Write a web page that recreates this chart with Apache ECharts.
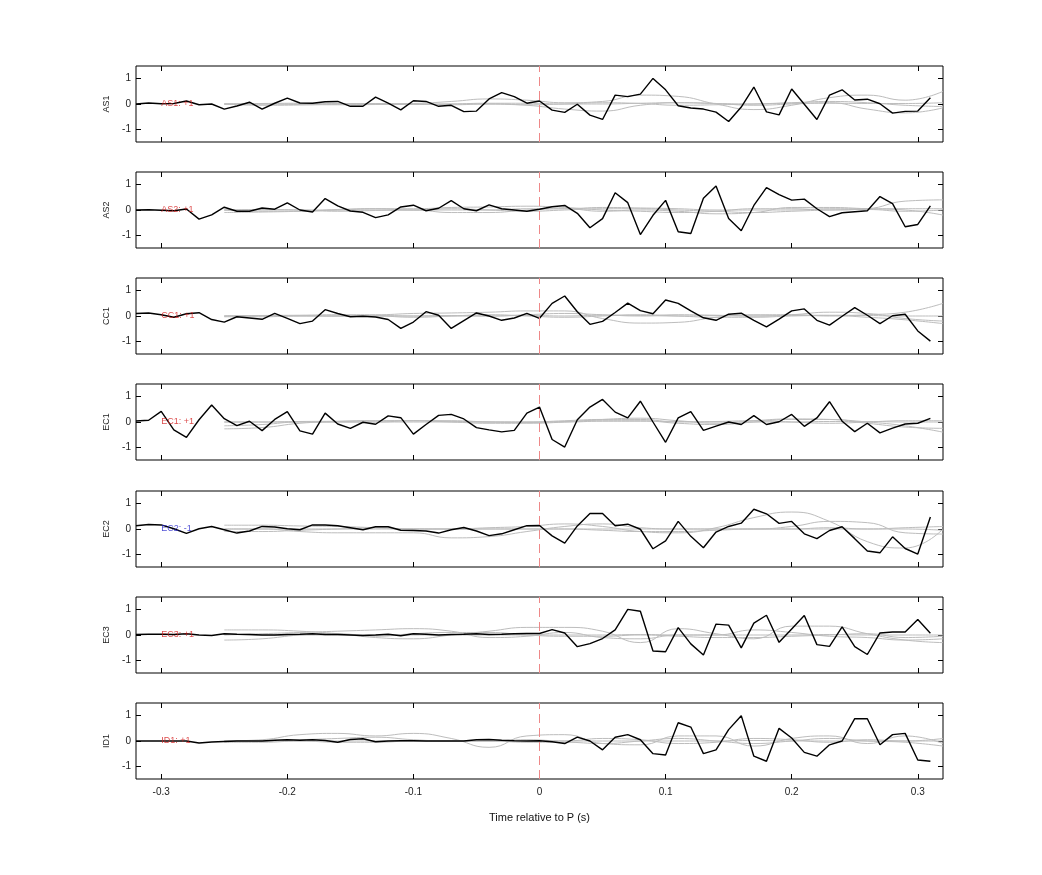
<!DOCTYPE html>
<html>
<head>
<meta charset="utf-8">
<script src="https://cdn.jsdelivr.net/npm/echarts@6/dist/echarts.min.js"></script>
<style>html,body{margin:0;padding:0;background:#fff}#c{width:1042px;height:875px}</style>
</head>
<body>
<div id="c"></div>
<script>
// ---- data ----
const stations = ['AS1', 'AS2', 'CC1', 'EC1', 'EC2', 'EC3', 'ID1'];
const polarity = ['+1', '+1', '+1', '+1', '-1', '+1', '+1'];
const xTicks = [-0.3, -0.2, -0.1, 0, 0.1, 0.2, 0.3];
const yTicks = [-1, 0, 1];
const tStart = -0.32, tStep = 0.01; // black trace sampling
const labelT = -0.3;

const AS1 = [0,0.04,0.01,0.02,0.12,-0.03,0,-0.2,-0.08,0.07,-0.2,0.03,0.23,0.04,0.03,0.09,0.1,-0.09,-0.09,0.27,0.03,-0.23,0.13,0.1,-0.09,-0.05,-0.3,-0.28,0.2,0.45,0.29,0.03,
  0.12,-0.24,-0.33,-0.01,-0.44,-0.61,0.35,0.29,0.39,1.01,0.56,-0.07,-0.16,-0.2,-0.32,-0.69,-0.12,0.67,-0.31,-0.43,0.59,-0.01,-0.61,0.35,0.56,0.16,0.19,0.01,-0.36,-0.29,-0.28,0.25];
const AS2 = [0,0.01,-0.01,-0.03,0.04,-0.36,-0.19,0.11,-0.05,-0.05,0.08,0.03,0.28,0,-0.08,0.45,0.16,-0.04,-0.09,-0.3,-0.19,0.12,0.19,-0.03,0.07,0.37,0.05,-0.03,0.2,0.05,0,-0.05,
  0.03,0.13,0.18,-0.13,-0.7,-0.34,0.68,0.29,-0.97,-0.21,0.38,-0.86,-0.93,0.46,0.95,-0.34,-0.82,0.18,0.88,0.61,0.39,0.43,0.05,-0.26,-0.11,-0.07,-0.03,0.53,0.25,-0.66,-0.57,0.16];
const CC1 = [0.1,0.12,0.05,-0.05,0.09,0.13,-0.14,-0.24,-0.03,-0.08,-0.13,0.1,-0.09,-0.3,-0.2,0.25,0.1,-0.03,-0.01,-0.04,-0.14,-0.49,-0.24,0.17,0.03,-0.49,-0.18,0.12,0,-0.17,-0.08,0.1,
  -0.09,0.5,0.79,0.17,-0.33,-0.21,0.14,0.51,0.21,0.09,0.63,0.5,0.2,-0.07,-0.17,0.07,0.11,-0.17,-0.43,-0.12,0.2,0.28,-0.17,-0.36,-0.01,0.33,0.03,-0.3,0.01,0.07,-0.59,-0.99];
const EC1 = [0.04,0.07,0.42,-0.31,-0.61,0.09,0.67,0.13,-0.14,0.03,-0.34,0.1,0.41,-0.35,-0.48,0.35,-0.08,-0.25,-0.01,-0.09,0.24,0.17,-0.48,-0.1,0.26,0.3,0.12,-0.22,-0.31,-0.39,-0.33,0.35,
  0.59,-0.69,-0.99,0.09,0.59,0.89,0.39,0.16,0.82,0,-0.8,0.16,0.41,-0.33,-0.16,0,-0.1,0.25,-0.1,0.01,0.3,-0.17,0.16,0.8,0.03,-0.38,-0.05,-0.43,-0.24,-0.08,-0.05,0.14];
const EC2 = [0.13,0.18,0.16,0.01,-0.17,0.01,0.1,-0.03,-0.16,-0.08,0.1,0.08,0.01,-0.03,0.16,0.16,0.13,0.05,-0.03,0.09,0.09,-0.05,-0.06,-0.08,-0.16,-0.03,0.06,-0.08,-0.26,-0.19,-0.03,0.13,
  0.14,-0.27,-0.56,0.12,0.61,0.61,0.13,0.19,-0.01,-0.78,-0.47,0.3,-0.29,-0.74,-0.12,0.1,0.23,0.78,0.6,0.22,0.3,-0.19,-0.38,-0.06,0.09,-0.38,-0.87,-0.94,-0.31,-0.77,-0.99,0.47];
const EC3 = [0.02,0.03,0.03,0.02,0.05,0.0,-0.02,0.05,0.03,0.02,0.0,0.0,0.02,0.03,0.05,0.02,0.02,0.0,-0.02,0.0,0.03,-0.03,0.05,0.03,0.0,0.02,0.03,0.05,0.02,0.03,0.05,0.06,
  0.06,0.21,0.08,-0.46,-0.34,-0.14,0.2,1.01,0.94,-0.63,-0.66,0.29,-0.35,-0.79,0.43,0.39,-0.51,0.47,0.78,-0.29,0.24,0.77,-0.38,-0.45,0.32,-0.46,-0.77,0.08,0.12,0.12,0.61,0.07];
const ID1 = [0,0,0,0,0,-0.08,-0.04,-0.02,0,0,0,0.03,0.05,0.03,0.05,0.02,-0.05,0.06,0.09,-0.03,0,0.01,0.01,0,0,0,0,0.05,0.06,0.03,0.01,0,
  0.01,-0.03,-0.1,0.15,0.0,-0.35,0.15,0.25,0.05,-0.5,-0.55,0.72,0.55,-0.5,-0.35,0.45,1.0,-0.6,-0.8,0.5,0.12,-0.45,-0.6,-0.15,0.0,0.88,0.88,-0.15,0.25,0.3,-0.75,-0.8];
const traces = [AS1, AS2, CC1, EC1, EC2, EC3, ID1];

// gray (model) curves, sampled on grayT
const grayT = [-0.25,-0.22,-0.19,-0.16,-0.13,-0.10,-0.07,-0.04,-0.01,0.02,0.05,0.08,0.11,0.14,0.17,0.20,0.23,0.26,0.29,0.32];
const grayAS1 = [
  [0,0,0,0,0,0.02,0.1,0.2,0.15,0.05,0.1,0.35,0.3,0,-0.22,-0.05,0.25,0.35,0.15,0.5],
  [0,0,-0.02,-0.03,-0.02,0,0,0,-0.05,-0.2,-0.28,-0.05,0.05,0.02,-0.05,0,0.05,-0.2,-0.35,-0.15],
  [0,0.02,0.03,0.02,0,-0.02,0,0.03,0.03,0,0,0.03,0.05,0.02,0,0.03,0.03,0.02,0.02,0.05],
  [0,-0.05,-0.04,0,0.02,0,-0.03,0,-0.03,0,0.05,0.02,-0.05,-0.03,0,0.05,0.1,0.05,-0.05,-0.1]];
const grayAS2 = [
  [-0.1,-0.08,-0.05,0,0.05,0.05,0.1,0.12,0.15,0.1,0,-0.05,-0.1,-0.05,0.05,0.05,0,0.05,0.35,0.4],
  [0,0.02,0,-0.05,-0.02,0,-0.1,-0.1,0,0.05,-0.05,0,-0.05,-0.15,-0.1,0.1,0.1,0.05,0,-0.2],
  [0,0,0,0,0,0,0,0,0.05,0.05,0.1,0.08,0.05,0,0,0,0.05,0.05,0.05,0.05],
  [0,-0.05,-0.05,0.02,0.05,0,0.05,0,-0.05,0,0.05,0.05,0,-0.05,-0.1,-0.05,0,0.02,-0.05,0]];
const grayCC1 = [
  [0,0.02,0.03,0.05,0.05,0.1,0.12,0.15,0.2,0.2,-0.1,-0.28,-0.25,-0.05,0.05,0.05,0,0.05,0.15,0.5],
  [0,0,0,0,0,0,0,0,0.05,0.1,0.05,0,0.05,0.03,0,0.05,0.15,0.1,-0.1,-0.2],
  [-0.03,-0.03,0,0,0,-0.05,0,0.05,0,-0.05,0,0.05,0,-0.05,-0.05,0,0.02,-0.05,-0.15,-0.3],
  [0,0.02,0.02,0,0.02,0,0.02,0,0.02,0,0.03,0.02,0,0.02,0,0.02,0.03,0.02,0,0]];
const grayEC1 = [
  [-0.27,-0.22,-0.05,0.02,0.05,0.05,0,-0.05,-0.05,0,0.1,0.15,0.05,-0.05,0.05,0.12,0.1,0,-0.15,-0.4],
  [-0.15,-0.1,0,0,0,0.05,0.05,0,-0.02,0.02,0.05,0.05,-0.05,-0.1,0,0.1,0.1,-0.05,-0.2,-0.25],
  [0,0,0,0,0,0,0,0,0,0,0.03,0.03,0.02,0,0,0,0.02,0.02,0,0],
  [0,0,0.02,0.03,0.05,0.05,0.03,0,0,0.05,0.1,0.1,0,0.02,0.05,0,-0.05,0,0.05,0.05]];
const grayEC2 = [
  [0.15,0.15,0.12,0.1,0.05,0,0,0.05,0.1,0.2,0.1,-0.1,-0.15,0.05,0.45,0.67,0.3,-0.5,-0.75,0],
  [0,0,-0.1,-0.15,-0.15,-0.15,-0.35,-0.3,-0.1,0.1,0.2,0.05,0,0,0,0.1,0.3,0.25,-0.15,-0.2],
  [-0.1,-0.1,-0.05,0,0.05,0,0,0,0,0,-0.05,-0.1,-0.1,-0.05,0,0,0.05,0,0,-0.05],
  [0,0,0,0,0,0,0,0,0,0,0,0,0,0,0,0,0,0,0.05,0.1]];
const grayEC3 = [
  [0.2,0.2,0.15,0.05,-0.1,-0.15,0,0.15,0.3,0.3,0.15,-0.3,0.25,0.05,-0.15,0.35,0.35,0.05,-0.2,-0.3],
  [0,0.05,0.1,0.15,0.2,0.25,0.15,-0.1,-0.05,0.1,-0.1,-0.15,0,0,0.2,0.1,-0.05,-0.1,-0.2,-0.15],
  [-0.2,-0.15,0,0.05,-0.05,0.05,0.1,0.1,0,-0.05,-0.05,0,-0.05,-0.1,-0.1,-0.05,0,0.05,-0.1,-0.05],
  [0.05,0,0,0,0,0,0,0,0,0,0,0.02,0,0,0,0,0.02,0,0,0]];
const grayID1 = [
  [0,0.05,0.25,0.3,0.2,0.3,0.1,-0.25,0.2,0.25,-0.1,-0.15,0.2,0.2,-0.2,0.1,0.2,-0.1,0.2,-0.1],
  [0,0,0.05,0.1,0.15,0.05,0,0,0.05,0,0.1,0.05,-0.1,-0.05,0.1,0.05,-0.05,0.05,0,0.1],
  [-0.05,-0.05,0,-0.05,-0.05,0,0,0,-0.05,-0.05,-0.1,0,0.1,0,-0.1,0,0.1,0,-0.05,-0.2],
  [0,0,0,0,0,0,0,0,0,0,0,0,0,0,0.02,0,0,0,0,0]];
const grays = [grayAS1, grayAS2, grayCC1, grayEC1, grayEC2, grayEC3, grayID1];

// ---- layout ----
const FONT = 'Liberation Sans';
const tops = [66, 172, 278, 384, 491, 597, 703];
const panelH = 76;
const grid = [], xAxis = [], yAxis = [], series = [];

stations.forEach((name, i) => {
  grid.push({left: 136, right: 99, top: tops[i], height: panelH, show: true,
    borderColor: '#000', borderWidth: 1, backgroundColor: 'transparent'});
  const last = i === stations.length - 1;
  const xBase = {gridIndex: i, type: 'value', min: -0.32, max: 0.32,
    axisLine: {show: false, onZero: false}, splitLine: {show: false},
    axisTick: {show: true, inside: true, length: 5, customValues: xTicks, lineStyle: {color: '#000'}}};
  xAxis.push(Object.assign({}, xBase, {position: 'bottom',
    axisLabel: {show: last, customValues: xTicks, margin: 8, fontFamily: FONT, fontSize: 10, color: '#222',
      formatter: v => String(+(+v).toFixed(2))},
    name: last ? 'Time relative to P (s)' : '', nameLocation: 'middle', nameGap: 33,
    nameTextStyle: {fontFamily: FONT, fontSize: 11, color: '#111'}}));
  xAxis.push(Object.assign({}, xBase, {position: 'top', axisLabel: {show: false}}));
  const yBase = {gridIndex: i, type: 'value', min: -1.5, max: 1.5,
    axisLine: {show: false, onZero: false}, splitLine: {show: false},
    axisTick: {show: true, inside: true, length: 5, customValues: yTicks, lineStyle: {color: '#000'}}};
  yAxis.push(Object.assign({}, yBase, {position: 'left',
    axisLabel: {show: true, customValues: yTicks, margin: 5, fontFamily: FONT, fontSize: 10, color: '#222'},
    name: name, nameLocation: 'middle', nameGap: 19, nameRotate: 90,
    nameTextStyle: {fontFamily: FONT, fontSize: 9, color: '#222'}}));
  yAxis.push(Object.assign({}, yBase, {position: 'right', axisLabel: {show: false}}));

  grays[i].forEach(g => {
    series.push({type: 'line', xAxisIndex: 2 * i, yAxisIndex: 2 * i, data: grayT.map((t, k) => [t, g[k]]),
      smooth: 0.5, showSymbol: false, symbol: 'none', silent: true, clip: true,
      lineStyle: {color: '#bdbdbd', width: 1}, z: 2});
  });
  series.push({type: 'line', xAxisIndex: 2 * i, yAxisIndex: 2 * i,
    data: traces[i].map((v, k) => [+(tStart + k * tStep).toFixed(2), v]),
    showSymbol: false, symbol: 'none', silent: true, clip: true,
    lineStyle: {color: '#000', width: 1.4}, z: 3,
    markLine: {silent: true, symbol: 'none', label: {show: false},
      lineStyle: {color: '#ee8888', type: [9, 5], width: 1}, data: [{xAxis: 0}]}});
  const pos = polarity[i] === '+1';
  series.push({type: 'scatter', xAxisIndex: 2 * i, yAxisIndex: 2 * i, data: [[labelT, 0]],
    symbolSize: 0, silent: true, z: 4,
    label: {show: true, position: 'right', distance: 0, formatter: name + ': ' + polarity[i],
      fontFamily: FONT, fontSize: 9, color: pos ? '#d42020' : '#2424cc'}});
});

const chart = echarts.init(document.getElementById('c'), null, {renderer: 'canvas'});
chart.setOption({animation: false, backgroundColor: '#fff', grid, xAxis, yAxis, series});
</script>
</body>
</html>
